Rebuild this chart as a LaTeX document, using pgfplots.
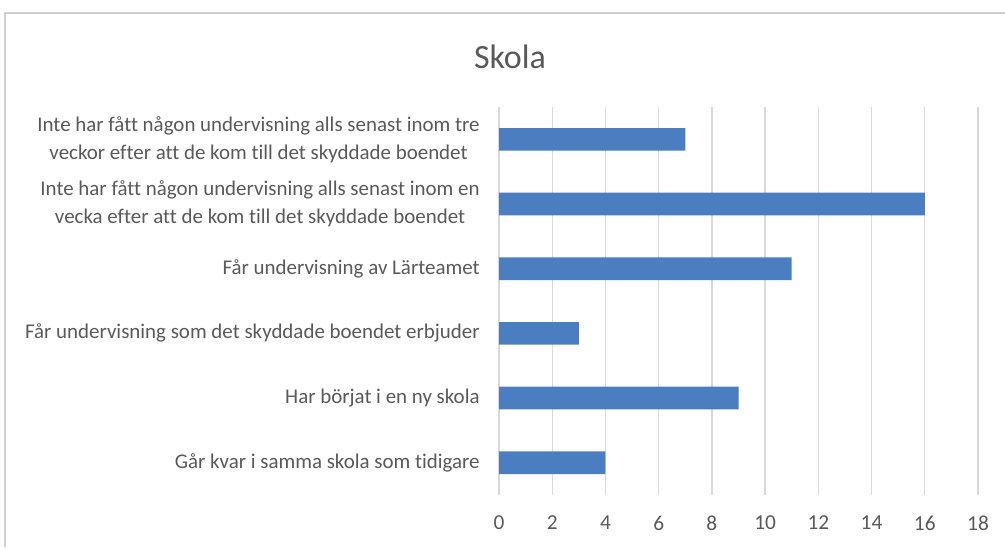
\documentclass[border=0pt]{standalone}
\usepackage{fontspec}
\setmainfont{Carlito}[RawFeature={-liga;-clig;-calt;-dlig}]
\usepackage{pgfplots}
\pgfplotsset{compat=1.18}
\definecolor{txt}{HTML}{595959}
\definecolor{barc}{HTML}{4A7EC0}
\definecolor{gridc}{HTML}{D9D9D9}
\definecolor{framec}{HTML}{D0D0D0}
\begin{document}
\begin{tikzpicture}[x=0.75pt,y=0.75pt]
\useasboundingbox (0,0) rectangle (1005,547);
\draw[framec,line width=1.5pt] (5,0) -- (5,534) -- (1005,534);
\node[txt,font=\fontsize{25.5}{28}\selectfont] at (510,490) {Skola};
\begin{axis}[
  at={(374.25pt,39pt)}, anchor=south west,
  scale only axis, width=359.25pt, height=291pt,
  xbar, bar width=17pt,
  xmin=0, xmax=18, ymin=-0.5, ymax=5.5,
  xtick={0,2,...,18},
  ytick={0,1,2,3,4,5},
  yticklabels={{Går kvar i samma skola som tidigare},
    {Har börjat i en ny skola},
    {Får undervisning som det skyddade boendet erbjuder},
    {Får undervisning av Lärteamet},
    {Inte har fått någon undervisning alls senast inom en\\vecka efter att de kom till det skyddade boendet},
    {Inte har fått någon undervisning alls senast inom tre\\veckor efter att de kom till det skyddade boendet}},
  yticklabel style={align=center, font=\fontsize{15.7}{21}\selectfont, text=txt, xshift=-11pt},
  xticklabel style={font=\fontsize{16}{19}\selectfont, text=txt, yshift=-12pt},
  /pgf/number format/assume math mode=true,
  axis line style={draw=none},
  major tick length=0pt,
  xmajorgrids, grid style={gridc, line width=1pt},
  ymajorgrids=false,
]
\addplot[fill=barc, draw=none] coordinates {(4,0) (9,1) (3,2) (11,3) (16,4) (7,5)};
\end{axis}
\end{tikzpicture}
\end{document}
